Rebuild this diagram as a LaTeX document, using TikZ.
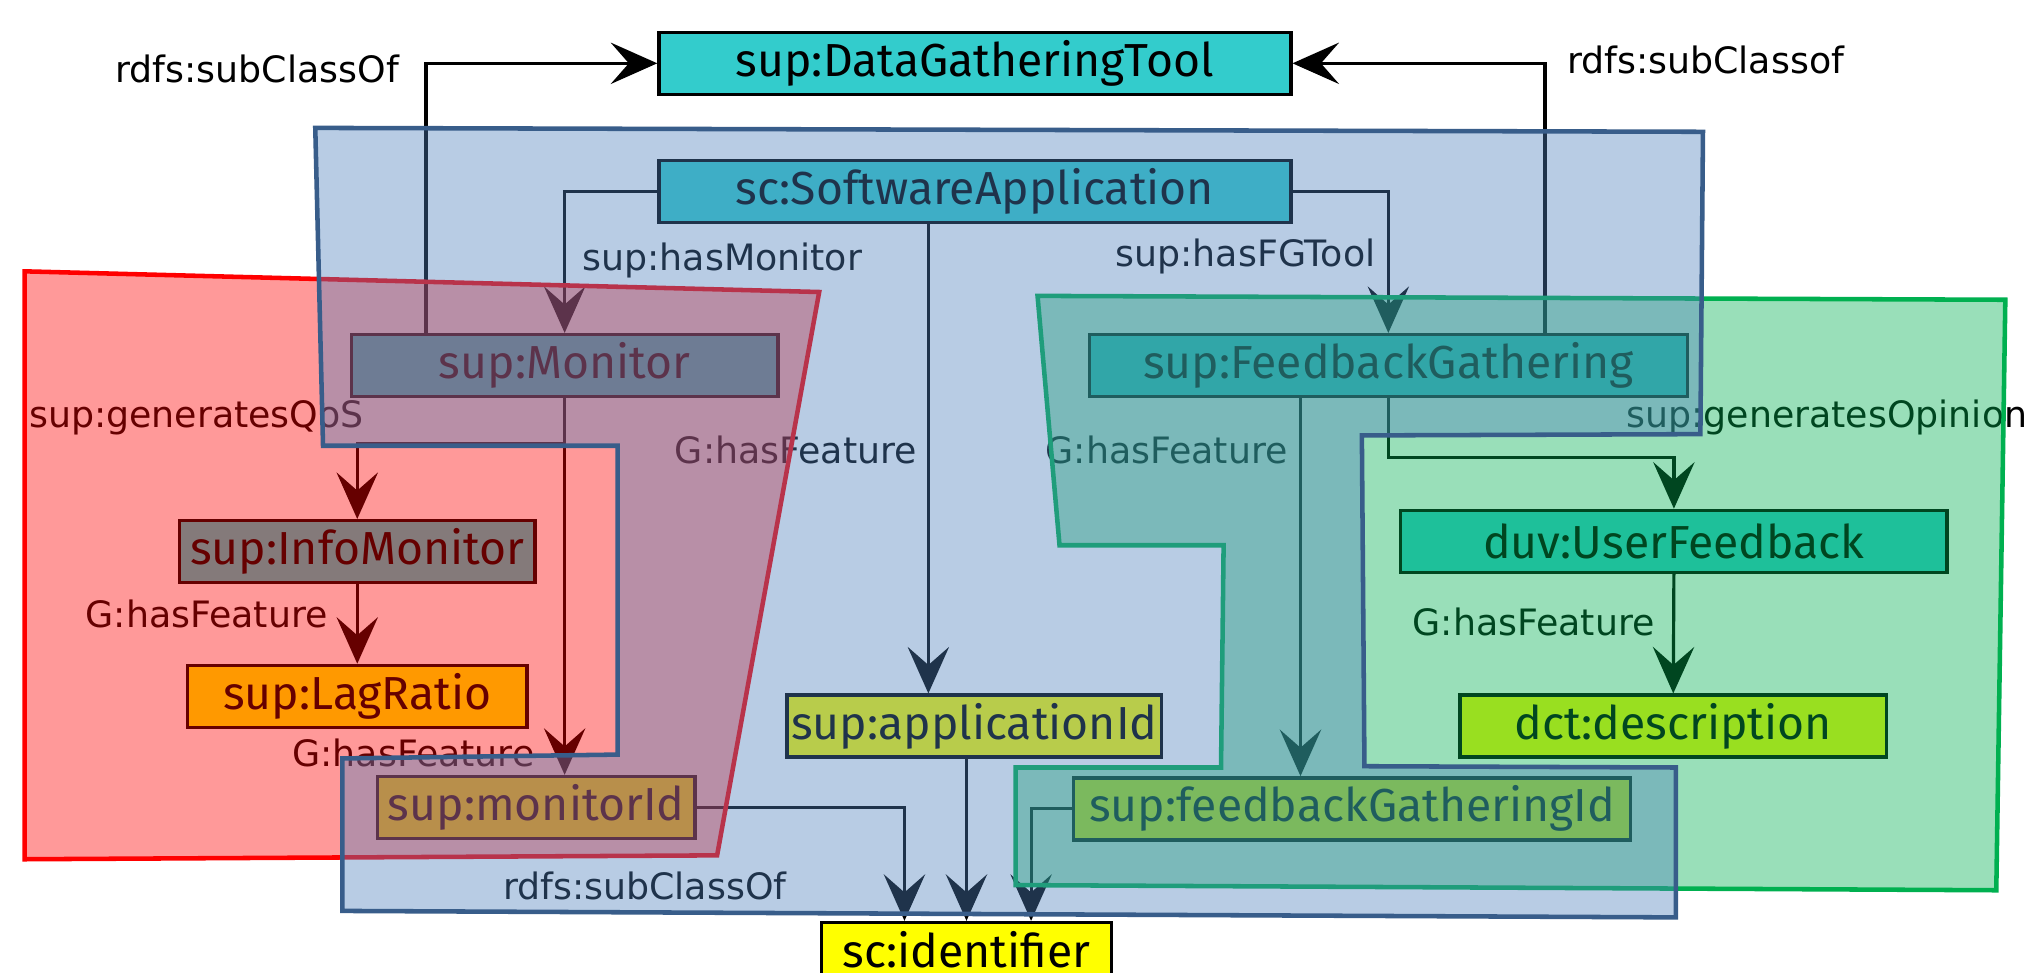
\documentclass[tikz,border=0pt]{standalone}
\usepackage{fontspec}
\setmainfont{DejaVu Sans}
\newfontfamily\boxfont{Fira Sans}
\newfontfamily\lblfont{DejaVu Sans}
\usetikzlibrary{arrows.meta}
\definecolor{clsfill}{HTML}{33CCCC}
\definecolor{dtfill}{HTML}{FFFF00}
\definecolor{redreg}{HTML}{FF0000}
\definecolor{greenreg}{HTML}{00B050}
\definecolor{bluereg}{HTML}{4F81BD}
\definecolor{blueline}{HTML}{385D8A}
\begin{document}
\begin{tikzpicture}[x=0.1mm, y=-0.1mm,
  box/.style={draw=black, line width=0.75pt, inner sep=0pt, minimum height=4.8mm,
    font=\boxfont\fontsize{10.2}{12}\selectfont, text=black},
  cls/.style={box, fill=clsfill},
  dt/.style={box, fill=dtfill},
  arr/.style={draw=black, line width=0.7pt, -{Stealth[length=3.6mm, width=3.2mm, inset=1.4mm]}},
  lbl/.style={font=\lblfont\fontsize{8}{10}\selectfont, inner sep=0pt, anchor=base, text=black},
  region/.style={line width=1pt, line join=miter}
]
\useasboundingbox (0,0) rectangle (1568,753);
\fill[white] (0,0) rectangle (1568,753);
\clip (0,0) rectangle (1568,753);

% nodes
\node[cls, minimum width=48.9mm] (DGT) at (754.5,49) {sup:DataGatheringTool};
\node[cls, minimum width=48.9mm] (SA) at (754.5,148) {sc:SoftwareApplication};
\node[cls, minimum width=33mm] (Mon) at (437,283) {sup:Monitor};
\node[cls, minimum width=46.3mm] (FG) at (1074.5,283) {sup:FeedbackGathering};
\node[cls, minimum width=27.5mm] (Info) at (276.5,427) {sup:InfoMonitor};
\node[dt, minimum width=26.3mm] (Lag) at (276.5,539) {sup:LagRatio};
\node[dt, minimum width=24.6mm] (monId) at (415,625) {sup:monitorId};
\node[dt, minimum width=29mm] (appId) at (754,562) {sup:applicationId};
\node[dt, minimum width=43.1mm] (fgId) at (1046.5,626) {sup:feedbackGatheringId};
\node[cls, minimum width=42.3mm] (UF) at (1295.5,419) {duv:UserFeedback};
\node[dt, minimum width=33mm] (desc) at (1295,562) {dct:description};
\node[dt, minimum width=22.4mm] (ident) at (748,738) {\raisebox{2pt}{sc:identifier}};

% connectors
\draw[arr] ([xshift=5.9mm]Mon.north west) |- (DGT.west);
\draw[arr] ([xshift=35.4mm]FG.north west) |- (DGT.east);
\draw[arr] (SA.west) -| (Mon.north);
\draw[arr] (SA.east) -| (FG.north);
\draw[arr] ([xshift=-3.6mm]SA.south) -- ([xshift=-3.6mm]SA.south |- appId.north);
\draw[arr] ([xshift=-6.8mm]FG.south) -- ([xshift=-6.8mm]FG.south |- fgId.north);
\draw[arr] (Mon.south) -- ++(0,-3.5mm) -| (Info.north);
\draw[arr] (Mon.south) -- (Mon.south |- monId.north);
\draw[arr] (Info.south) -- (Lag.north);
\draw[arr] (monId.east) -| ([xshift=-4.8mm]ident.north);
\draw[arr] (ident.north |- appId.south) -- (ident.north);
\draw[arr] (fgId.west) -| ([xshift=5mm]ident.north);
\draw[arr] (FG.south) -- ++(0,-4.6mm) -| (UF.north);
\draw[arr] (UF.south) -- (desc.north);

% labels
\node[lbl] (l1) at (199,64) {rdfs:subClassOf};
\node[lbl] (l2) at (1320,57) {rdfs:subClassof};
\node[lbl] (l3) at (559,209) {sup:hasMonitor};
\node[lbl] (l4) at (964,206) {sup:hasFGTool};
\node[lbl] (l5) at (152,331) {sup:generatesQoS};
\node[lbl] (l6) at (616,359) {G:hasFeature};
\node[lbl] (l7) at (903,359) {G:hasFeature};
\node[lbl] (l8) at (160,486) {G:hasFeature};
\node[lbl] (l9) at (320,593) {G:hasFeature};
\node[lbl] (l10) at (499,696) {rdfs:subClassOf};
\node[lbl, anchor=base west] (l11) at (1258,331) {sup:generatesOpinion};
\node[lbl] (l12) at (1187,492) {G:hasFeature};

% translucent regions
\path[region, fill=redreg, fill opacity=0.4, draw=redreg]
  (19,210) -- (634,226) -- (555,662) -- (19,665) -- cycle;
\path[region, fill=greenreg, fill opacity=0.4, draw=greenreg]
  (803,229) -- (1552,232) -- (1545,689) -- (786,685) -- (786,594) -- (945,594)
  -- (947,422) -- (820,422) -- cycle;
\path[region, fill=bluereg, fill opacity=0.4, draw=blueline]
  (244,99) -- (1318,102) -- (1316,336) -- (1054,337) -- (1056,593) -- (1297,594)
  -- (1297,710) -- (265,705) -- (265,587) -- (478,584) -- (478,345) -- (250,345) -- cycle;
\end{tikzpicture}
\end{document}
